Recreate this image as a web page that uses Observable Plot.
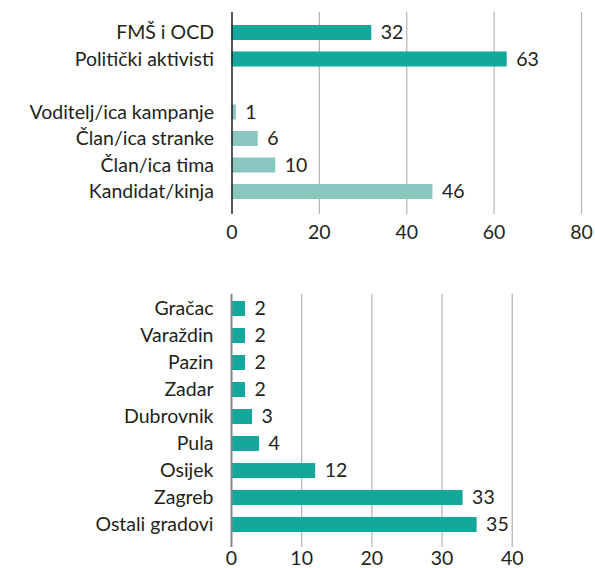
<!DOCTYPE html>
<html>
<head>
<meta charset="utf-8">
<script src="https://cdn.jsdelivr.net/npm/d3@7"></script>
<script src="https://cdn.jsdelivr.net/npm/@observablehq/plot@0.6"></script>
<style>
  html, body { margin: 0; padding: 0; background: #fff; }
  #chart { width: 595px; }
  #chart svg { display: block; font-family: Lato, sans-serif; }
</style>
</head>
<body>
<div id="chart"></div>
<script>
// Top panel
const topCategoriesA = ["FMŠ i OCD", "Politički aktivisti"];
const topValuesA = [32, 63];
const topCategoriesB = ["Voditelj/ica kampanje", "Član/ica stranke", "Član/ica tima", "Kandidat/kinja"];
const topValuesB = [1, 6, 10, 46];
const topTicks = [0, 20, 40, 60, 80];

// Bottom panel
const cityCategories = ["Gračac", "Varaždin", "Pazin", "Zadar", "Dubrovnik", "Pula", "Osijek", "Zagreb", "Ostali gradovi"];
const cityValues = [2, 2, 2, 2, 3, 4, 12, 33, 35];
const bottomTicks = [0, 10, 20, 30, 40];

const darkTeal = "#13a89b";
const lightTeal = "#8ac6c0";
const textColor = "#231f20";
const fontSize = 19.5;

const topData = [
  ...topCategoriesA.map((c, i) => ({cat: c, value: topValuesA[i], group: "A"})),
  ...topCategoriesB.map((c, i) => ({cat: c, value: topValuesB[i], group: "B"}))
];
const topDomain = [...topCategoriesA, " ", ...topCategoriesB];

const topPlot = Plot.plot({
  width: 595,
  height: 250,
  marginLeft: 231.5,
  marginRight: 14,
  marginTop: 12,
  marginBottom: 36,
  style: {fontSize: fontSize + "px", color: textColor, fontFamily: "Lato, sans-serif"},
  x: {domain: [0, 80], ticks: topTicks, tickSize: 0, tickPadding: 11, label: null},
  y: {domain: topDomain, range: [25, 199], paddingInner: 0.434, paddingOuter: 0, round: false, tickSize: 0, tickPadding: 18, label: null},
  color: {domain: ["A", "B"], range: [darkTeal, lightTeal]},
  marks: [
    Plot.ruleX(topTicks.filter(d => d > 0), {stroke: "#b3b3b3", strokeWidth: 1.2, strokeOpacity: 1}),
    Plot.barX(topData, {x: "value", y: "cat", fill: "group"}),
    Plot.text(topData, {x: "value", y: "cat", text: d => String(d.value), textAnchor: "start", dx: 9, fill: textColor, fontSize: fontSize}),
    Plot.ruleX([0], {stroke: "#222", strokeWidth: 1.5})
  ]
});

const bottomData = cityCategories.map((c, i) => ({cat: c, value: cityValues[i]}));

const bottomPlot = Plot.plot({
  width: 595,
  height: 318,
  marginLeft: 231,
  marginRight: 595 - 511.7,
  marginTop: 44,
  marginBottom: 21,
  style: {fontSize: fontSize + "px", color: textColor, fontFamily: "Lato, sans-serif"},
  x: {domain: [0, 40], ticks: bottomTicks, tickSize: 0, tickPadding: 4, label: null},
  y: {domain: cityCategories, range: [51, 282], paddingInner: 0.444, paddingOuter: 0, round: false, tickSize: 0, tickPadding: 18, label: null},
  marks: [
    Plot.ruleX(bottomTicks.filter(d => d > 0), {stroke: "#b3b3b3", strokeWidth: 1.2}),
    Plot.barX(bottomData, {x: "value", y: "cat", fill: darkTeal}),
    Plot.text(bottomData, {x: "value", y: "cat", text: d => String(d.value), textAnchor: "start", dx: 9, fill: textColor, fontSize: fontSize}),
    Plot.ruleX([0], {stroke: "#888", strokeWidth: 2})
  ]
});

document.getElementById("chart").append(topPlot, bottomPlot);
</script>
</body>
</html>
